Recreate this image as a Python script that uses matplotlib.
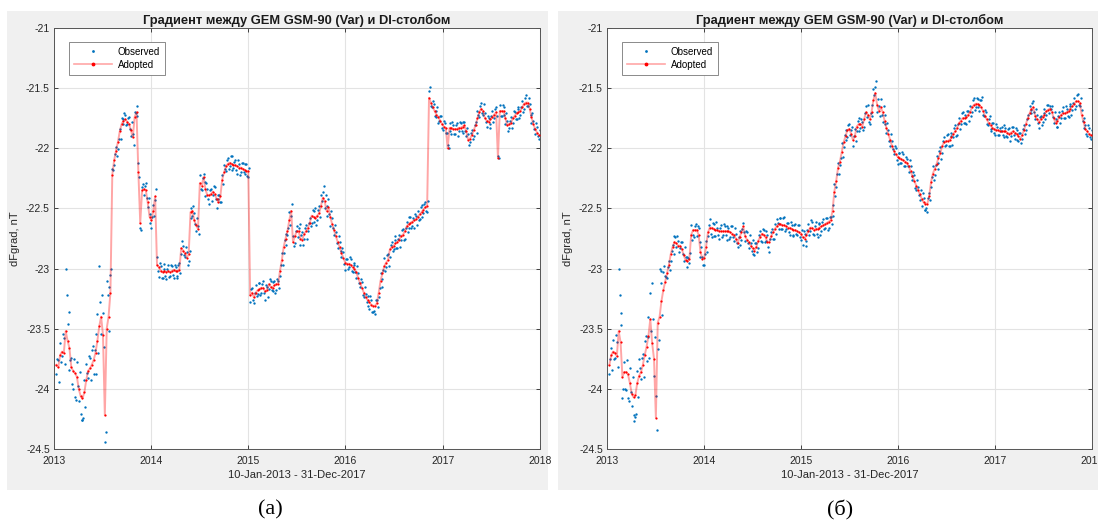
import numpy as np
import pandas as pd
import matplotlib
matplotlib.use("Agg")
import matplotlib.pyplot as plt
from matplotlib.patches import Rectangle
from matplotlib.lines import Line2D

plt.rcParams['font.family'] = ['Liberation Sans', 'DejaVu Sans']

# Weekly samples, 10-Jan-2013 .. 28-Dec-2017
start_date = "2013-01-10"
n_weeks = 260

# Adopted gradient before baseline correction, nT
adopted_a = [
    -23.80, -23.82, -23.72, -23.69, -23.70, -23.52, -23.60, -23.66, -23.82, -23.85,
    -23.87, -23.90, -24.00, -24.06, -24.08, -24.03, -23.93, -23.85, -23.83, -23.80,
    -23.76, -23.70, -23.60, -23.48, -23.40, -23.55, -24.22, -23.50, -23.40, -23.20,
    -22.22, -22.10, -22.02, -21.95, -21.86, -21.80, -21.77, -21.76, -21.78, -21.80,
    -21.85, -21.91, -21.74, -21.70, -22.20, -22.62, -22.35, -22.34, -22.35, -22.45,
    -22.57, -22.60, -22.52, -22.40, -22.97, -22.99, -23.02, -23.03, -23.02, -23.03,
    -23.02, -23.03, -23.02, -23.01, -23.02, -23.02, -23.01, -22.83, -22.85, -22.87,
    -22.91, -22.88, -22.53, -22.52, -22.60, -22.64, -22.67, -22.29, -22.31, -22.24,
    -22.34, -22.39, -22.39, -22.38, -22.36, -22.38, -22.42, -22.45, -22.40, -22.26,
    -22.20, -22.15, -22.13, -22.12, -22.13, -22.14, -22.14, -22.15, -22.16, -22.16,
    -22.17, -22.18, -22.19, -22.19, -23.22, -23.20, -23.24, -23.20, -23.18, -23.17,
    -23.16, -23.16, -23.19, -23.18, -23.13, -23.15, -23.16, -23.14, -23.13, -23.13,
    -23.02, -22.93, -22.82, -22.75, -22.69, -22.60, -22.52, -22.78, -22.73, -22.69,
    -22.69, -22.75, -22.76, -22.71, -22.69, -22.66, -22.62, -22.56, -22.57, -22.58,
    -22.56, -22.54, -22.48, -22.41, -22.44, -22.52, -22.49, -22.57, -22.63, -22.68,
    -22.73, -22.78, -22.82, -22.87, -22.91, -22.95, -22.96, -22.96, -22.97, -22.99,
    -23.00, -23.03, -23.08, -23.12, -23.16, -23.20, -23.24, -23.26, -23.28, -23.30,
    -23.31, -23.31, -23.29, -23.20, -23.10, -23.04, -22.98, -22.95, -22.93, -22.84,
    -22.82, -22.81, -22.79, -22.78, -22.76, -22.73, -22.72, -22.69, -22.65, -22.63,
    -22.62, -22.61, -22.60, -22.59, -22.57, -22.55, -22.53, -22.51, -22.49, -22.48,
    -21.58, -21.62, -21.66, -21.69, -21.72, -21.74, -21.77, -21.80, -21.82, -21.83,
    -22.00, -21.83, -21.83, -21.84, -21.84, -21.84, -21.83, -21.83, -21.82, -21.81,
    -21.86, -21.93, -21.92, -21.89, -21.85, -21.81, -21.75, -21.70, -21.67, -21.69,
    -21.75, -21.77, -21.78, -21.76, -21.74, -21.72, -21.70, -22.08, -21.69, -21.69,
    -21.69, -21.75, -21.81, -21.80, -21.79, -21.75, -21.73, -21.71, -21.70, -21.69,
    -21.66, -21.63, -21.62, -21.62, -21.67, -21.74, -21.80, -21.84, -21.87, -21.89,
]

# Adopted gradient after baseline correction, nT
adopted_b = [
    -23.80, -23.72, -23.69, -23.70, -23.73, -23.52, -23.61, -23.90, -23.86, -23.86,
    -23.88, -23.95, -24.04, -24.07, -24.05, -23.95, -23.89, -23.86, -23.80, -23.72,
    -23.65, -23.56, -23.42, -23.62, -23.75, -24.24, -23.45, -23.40, -23.27, -23.18,
    -23.11, -23.04, -22.97, -22.88, -22.82, -22.78, -22.79, -22.81, -22.81, -22.84,
    -22.89, -22.93, -22.94, -22.92, -22.72, -22.68, -22.68, -22.68, -22.72, -22.86,
    -22.92, -22.91, -22.82, -22.70, -22.66, -22.66, -22.67, -22.68, -22.68, -22.69,
    -22.69, -22.69, -22.69, -22.69, -22.69, -22.70, -22.71, -22.72, -22.75, -22.79,
    -22.74, -22.70, -22.65, -22.73, -22.76, -22.78, -22.81, -22.83, -22.85, -22.82,
    -22.77, -22.74, -22.71, -22.72, -22.74, -22.78, -22.78, -22.73, -22.70, -22.67,
    -22.65, -22.63, -22.63, -22.64, -22.64, -22.65, -22.66, -22.66, -22.67, -22.68,
    -22.68, -22.69, -22.70, -22.71, -22.74, -22.75, -22.72, -22.69, -22.66, -22.66,
    -22.68, -22.67, -22.67, -22.66, -22.65, -22.64, -22.63, -22.62, -22.61, -22.60,
    -22.52, -22.36, -22.27, -22.16, -22.11, -22.03, -21.95, -21.90, -21.85, -21.84,
    -21.88, -21.93, -21.90, -21.82, -21.80, -21.80, -21.82, -21.76, -21.70, -21.72,
    -21.76, -21.70, -21.60, -21.54, -21.64, -21.69, -21.66, -21.70, -21.77, -21.83,
    -21.88, -21.93, -21.98, -22.02, -22.05, -22.07, -22.08, -22.09, -22.10, -22.11,
    -22.12, -22.15, -22.19, -22.23, -22.27, -22.31, -22.35, -22.38, -22.42, -22.45,
    -22.46, -22.46, -22.40, -22.28, -22.21, -22.17, -22.13, -22.08, -22.04, -21.98,
    -21.95, -21.94, -21.94, -21.93, -21.91, -21.88, -21.86, -21.83, -21.79, -21.77,
    -21.75, -21.75, -21.74, -21.72, -21.70, -21.66, -21.64, -21.63, -21.63, -21.64,
    -21.66, -21.69, -21.73, -21.76, -21.79, -21.81, -21.83, -21.84, -21.85, -21.85,
    -21.86, -21.86, -21.86, -21.86, -21.87, -21.88, -21.87, -21.86, -21.87, -21.88,
    -21.90, -21.92, -21.89, -21.85, -21.80, -21.75, -21.71, -21.67, -21.66, -21.73,
    -21.76, -21.78, -21.76, -21.74, -21.72, -21.69, -21.68, -21.67, -21.70, -21.75,
    -21.79, -21.77, -21.74, -21.72, -21.71, -21.71, -21.70, -21.69, -21.67, -21.65,
    -21.63, -21.61, -21.61, -21.62, -21.72, -21.78, -21.84, -21.86, -21.88, -21.89,
]

# Observed minus adopted, hundredths of nT: on the sample day and mid-week
residual_day = [
    -8, 6, 10, -4, 12, 52, 14, -18, 8, -15, -20, 12, -10, -15, -18, 10, 14, -6, 9, 12,
    -12, 16, 22, 50, -14, 18, -22, 40, 25, 15, 5, -4, 3, -6, 2, 5, -3, 4, -2, 6,
    -5, 3, 4, -3, 8, -4, 3, -5, 6, -4, 2, -6, 5, -3, 7, -8, 4, -5, 2, -6,
    5, -3, 4, -7, 3, -4, 6, -5, 4, -3, 5, -6, 3, -4, 6, -5, 2, 7, -4, 3,
    -6, 5, -7, 4, -3, 6, -8, 3, -5, 4, 6, -4, 5, -3, 7, -2, 4, -6, 3, -4,
    5, -3, 6, -5, -6, 4, -5, 6, -3, 5, -4, 6, -7, 3, -4, 5, -3, 4, -5, 3,
    -4, 6, -5, 4, -3, 7, -4, 5, -6, 4, 3, -5, 6, -4, 5, -3, 4, -6, 5, 8,
    -4, 6, 9, 5, -6, 4, 7, -8, 5, -4, 3, -5, 4, -3, 5, -6, 4, -3, 5, -4,
    3, -5, 4, -3, 5, -4, 3, -5, -6, 4, -5, -7, 3, -4, 6, -5, 7, -4, 5, -6,
    4, -3, 6, -5, 4, -3, 5, -6, 4, -3, 5, -4, -6, 3, 5, -4, 6, -3, 4, -5,
    6, -3, 5, -4, 3, -5, 4, -3, 5, -4, 3, 4, -5, 3, -4, 5, -3, 4, -5, 3,
    -4, 5, -3, 4, -5, 3, 6, -4, 5, -3, 4, -5, 3, -4, 5, -3, 4, 2, 5, -4,
    3, -5, 4, -3, 5, -4, 3, -5, 4, -3, 5, -4, 6, -3, 4, -5, 3, -4, 5, -3,
]
residual_mid = [
    5, -12, -6, 15, -9, 30, 24, -10, -14, 10, -22, -8, 14, -20, -16, -12, 6, 12, -10, 16,
    8, -18, -10, 20, 18, -10, -14, 28, -12, 20, 4, 5, -4, 3, -6, 4, 6, -5, 3, -4,
    7, -6, 3, 5, -4, -6, 5, 3, -6, 4, -5, 3, -4, 6, -5, 4, -6, 7, -4, 3,
    -5, 6, -3, 4, -6, 5, -3, 6, -4, 5, -6, 3, -5, 4, -3, 6, -4, -5, 6, -4,
    5, -3, 4, -6, 5, -4, 3, 6, -5, -4, 3, 5, -4, 6, -5, 3, -4, 5, -6, 4,
    -3, 5, -4, 3, 5, -6, 4, -3, 6, -5, 3, -4, 5, -6, 4, -3, 5, -6, 4, -3,
    5, -4, 6, -5, 3, -4, 6, -3, 4, -5, 6, 3, -4, 5, -6, 4, -3, 5, -4, -6,
    5, -3, 4, 10, 5, -4, -6, 5, -3, 4, -6, 5, -3, 4, -5, 3, -4, 6, -5, 4,
    -3, 5, -4, 3, -6, 5, -4, 3, 5, -6, -4, 5, -3, 4, -5, 3, -4, 6, -5, 4,
    -3, 5, -4, 3, -6, 5, -4, 3, -5, 6, -4, 3, 5, -5, -3, 6, -4, 5, -3, 4,
    9, -4, 3, -5, 6, -3, 4, -5, 3, -4, 0, -3, 5, -4, 3, -6, 5, -3, 4, -5,
    3, -4, 5, -3, 4, -6, 3, 5, -4, 6, -3, 4, -5, 3, -4, 5, -3, 0, -4, 5,
    -3, 4, -5, 3, -4, 6, -3, 4, -5, 3, -4, 5, -3, 4, -5, 3, -4, 5, -3, 4,
]

title_text = "Градиент между GEM GSM-90 (Var) и DI-столбом"
xlabel_text = "10-Jan-2013 - 31-Dec-2017"
ylabel_text = "dFgrad, nT"
panel_tags = ["(a)", "(б)"]
year_ticks = [2013, 2014, 2015, 2016, 2017, 2018]
y_ticks = [-24.5, -24, -23.5, -23, -22.5, -22, -21.5, -21]

dates = pd.date_range(start_date, periods=n_weeks, freq="7D")
mid_dates = dates + pd.Timedelta(hours=84)

W, H = 1098, 525
fig = plt.figure(figsize=(W / 100, H / 100), dpi=100, facecolor="white")


def px_rect(x0, y0, x1, y1):
    return [x0 / W, 1 - y1 / H, (x1 - x0) / W, (y1 - y0) / H]


# grey figure backgrounds of the two exported plots
for x0, x1 in [(7, 548), (558, 1100)]:
    r = px_rect(x0, 11, x1, 490)
    fig.patches.append(Rectangle((r[0], r[1]), r[2], r[3], transform=fig.transFigure,
                                 facecolor="#f0f0f0", edgecolor="none", zorder=-10))

blue = "#0072bd"
axes_px = [(54, 28, 540, 449), (607, 28, 1092, 449)]
series = [adopted_a, adopted_b]
tag_x = [270, 840]

for k, (ax_box, adopted) in enumerate(zip(axes_px, series)):
    ax = fig.add_axes(px_rect(*ax_box))
    ad = np.array(adopted)
    obs_day = ad + np.array(residual_day) / 100.0
    obs_mid = ad + np.array(residual_mid) / 100.0

    ax.plot(dates, obs_day, ".", color=blue, ms=3.4, mew=0, zorder=2)
    ax.plot(mid_dates, obs_mid, ".", color=blue, ms=3.4, mew=0, zorder=2)
    ax.plot(dates, ad, "-", color=(1, 0, 0, 0.35), lw=1.4, zorder=3)
    ax.plot(dates, ad, ".", color="#ff0000", ms=3.2, mew=0, zorder=4)

    ax.set_xlim(pd.Timestamp("2013-01-01"), pd.Timestamp("2018-01-01"))
    ax.set_ylim(-24.5, -21)
    ax.set_xticks([pd.Timestamp(f"{y}-01-01") for y in year_ticks])
    ax.set_xticklabels([str(y) for y in year_ticks])
    ax.set_yticks(y_ticks)
    ax.set_yticklabels([f"{v:g}" for v in y_ticks])
    ax.tick_params(direction="in", length=3, width=0.6, top=True, right=True,
                   labelsize=7.5, colors="#262626")
    ax.tick_params(axis="x", pad=5)
    ax.tick_params(axis="y", pad=3)
    ax.grid(True, color="#e3e3e3", lw=0.8)
    ax.set_axisbelow(True)
    for s in ax.spines.values():
        s.set_color("#555555")
        s.set_linewidth(0.7)
    ax.set_facecolor("white")
    ax.set_title(title_text, fontsize=9.3, fontweight="bold", color="#1a1a1a", pad=3)
    ax.set_xlabel(xlabel_text, fontsize=8, color="#262626", labelpad=3)
    ax.set_ylabel(ylabel_text, fontsize=8, color="#262626", labelpad=4)

    handles = [
        Line2D([], [], ls="none", marker=".", color=blue, ms=4, mew=0),
        Line2D([], [], ls="-", color=(1, 0, 0, 0.35), lw=1.2, marker=".",
               mfc="#ff0000", mec="#ff0000", ms=3.5),
    ]
    leg = ax.legend(handles, ["Observed", "Adopted"], loc="upper left",
                    bbox_to_anchor=(0.031, 0.967), borderaxespad=0, fontsize=7,
                    frameon=True, fancybox=False, edgecolor="#777777", framealpha=1,
                    handlelength=3.9, borderpad=0.5, labelspacing=0.3,
                    handletextpad=0.6)
    leg.get_frame().set_linewidth(0.6)

    fig.text(tag_x[k] / W, 1 - 510 / H, panel_tags[k],
             fontsize=16, family=["Liberation Serif", "DejaVu Serif"],
             ha="center", va="center", color="black")

fig.savefig("out.png", dpi=100, facecolor="white")
